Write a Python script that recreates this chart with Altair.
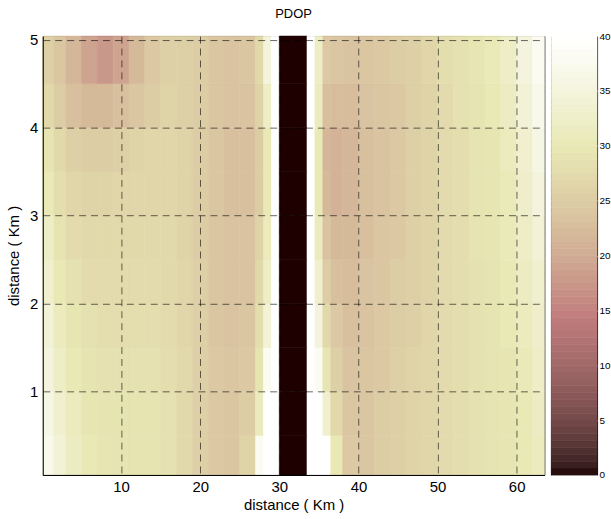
import altair as alt
import numpy as np
import pandas as pd

# Cell boundaries of the PDOP grid (km)
X_EDGES = [0.1, 1.5, 3, 5, 7, 9, 11, 13, 15, 17, 19, 21, 23, 25, 27, 28, 29, 30,
           33.5, 34.5, 35.5, 36.5, 38, 40, 42, 44, 46, 48, 50, 52, 54, 56, 58, 60, 62, 63.5]
Y_EDGES = [0.05, 0.5, 1.0, 1.5, 2.0, 2.5, 3.0, 3.5, 4.0, 4.5, 5.04]

# PDOP per cell, one row per y band (bottom to top); left side, blocked strip, right side
PDOP_LEFT = [
    [37, 34, 31.5, 30, 29.5, 29, 29, 29, 28.5, 27, 25.5, 24.5, 24, 26, 38, 45, 45],
    [36, 33, 31, 29.5, 29, 29, 29, 29, 28.5, 27, 25.5, 24.5, 24, 25, 31, 42, 45],
    [35, 32, 30, 29, 28.5, 28.5, 28.5, 28.5, 28, 27, 25.5, 24.5, 24, 24.5, 29, 38, 45],
    [34, 31, 29.5, 28.5, 28, 28, 28, 28, 27.5, 26.5, 25.5, 24, 23.5, 24, 28, 34, 45],
    [33, 30, 28.5, 27.5, 27.5, 27.5, 27.5, 27.5, 27, 26.5, 25.5, 24, 23.5, 23.5, 27, 32, 45],
    [32, 29, 27.5, 27, 27, 27, 27, 27, 27, 26, 25, 24, 23.5, 23.5, 26, 31, 45],
    [30.5, 28, 26.5, 26, 26, 26.5, 26.5, 26.5, 26.5, 26, 25, 24, 23, 23, 25, 30, 45],
    [29, 27, 25.5, 25, 25, 25.5, 26, 26.5, 26.5, 26, 25, 24, 23, 23, 25, 30, 45],
    [27, 25, 23, 22, 22, 23, 24, 25, 26, 25.5, 25, 24, 23.5, 23.5, 26, 32, 45],
    [25.5, 24, 21.5, 19, 17.5, 19, 22, 24.5, 25.5, 25.5, 25, 24, 23.5, 24, 27, 35, 45],
]
PDOP_STRIP = 0
PDOP_RIGHT = [
    [45, 45, 40, 30, 24.5, 24, 25, 25.5, 26, 26.5, 27.5, 28, 28.5, 29, 29.5, 30, 31],
    [45, 42, 33, 27, 24, 24, 25, 25.5, 26, 26.5, 27.5, 28, 28.5, 29, 29.5, 30, 31.5],
    [45, 38, 29.5, 25.5, 23.5, 24, 24.5, 25.5, 26, 26.5, 27.5, 28, 28.5, 29, 29.5, 30.5, 32],
    [45, 35, 27, 24.5, 23, 23.5, 24.5, 25, 25.5, 26.5, 27.5, 28, 28.5, 29, 30, 31, 32.5],
    [45, 33, 25, 23, 22.5, 23.5, 24, 25, 25.5, 26, 27.5, 28, 28.5, 29, 30, 31.5, 33],
    [45, 31, 23.5, 22, 22, 23, 24, 24.5, 25.5, 26, 27.5, 28, 29, 29.5, 30.5, 32, 34],
    [45, 30, 22, 21, 21.5, 23, 23.5, 24.5, 25.5, 26, 27.5, 28, 29, 29.5, 30.5, 32.5, 35],
    [45, 30, 21.5, 21, 21.5, 23, 23.5, 24.5, 25.5, 26, 27.5, 28, 29, 29.5, 31, 33, 36],
    [45, 31, 23, 22.5, 22.5, 23.5, 24, 24.5, 25.5, 26, 27.5, 28.5, 29, 30, 31.5, 34, 37],
    [45, 32, 24.5, 24, 23.5, 24, 24.5, 25, 25.5, 26.5, 28, 28.5, 29.5, 30.5, 32, 35, 38],
]

X_TICKS = [10, 20, 30, 40, 50, 60]
Y_TICKS = [1, 2, 3, 4, 5]
CBAR_TICKS = [0, 5, 10, 15, 20, 25, 30, 35, 40]
CBAR_MAX = 40


def pink_colormap(m=64):
    """64-level 'pink' colormap: sqrt((2*gray + hot) / 3)."""
    n = int(3 / 8 * m)
    r = np.concatenate([np.arange(1, n + 1) / n, np.ones(m - n)])
    g = np.concatenate([np.zeros(n), np.arange(1, n + 1) / n, np.ones(m - 2 * n)])
    b = np.concatenate([np.zeros(2 * n), np.arange(1, m - 2 * n + 1) / (m - 2 * n)])
    gray = np.arange(m) / (m - 1)
    rgb = np.sqrt((2 * gray[:, None] + np.stack([r, g, b], axis=1)) / 3)
    return ["#%02x%02x%02x" % tuple(int(round(c * 255)) for c in row) for row in rgb]


PINK = pink_colormap(64)
color_scale = alt.Scale(domain=[0, CBAR_MAX], range=PINK, clamp=True, interpolate="rgb")

rows = []
for j in range(len(Y_EDGES) - 1):
    values = PDOP_LEFT[j] + [PDOP_STRIP] + PDOP_RIGHT[j]
    for i, v in enumerate(values):
        rows.append({"x": X_EDGES[i], "x2": X_EDGES[i + 1],
                     "y": Y_EDGES[j], "y2": Y_EDGES[j + 1], "pdop": v})
grid = pd.DataFrame(rows)

FONT = "Liberation Sans"

grid_style = dict(grid=True, gridDash=[7, 5], gridColor="#000000", gridOpacity=0.6,
                  ticks=False, domainColor="#000000", zindex=1,
                  labelFont=FONT, titleFont=FONT, labelFontSize=15, titleFontSize=15,
                  labelColor="#000000", titleColor="#000000", titleFontWeight="normal")

heat = alt.Chart(grid).mark_rect(strokeWidth=0.6).encode(
    x=alt.X("x:Q", scale=alt.Scale(domain=[0.1, 63.5], nice=False, zero=False),
            axis=alt.Axis(values=X_TICKS, title="distance ( Km )",
                          labelPadding=5, titlePadding=3, **grid_style)),
    x2="x2:Q",
    y=alt.Y("y:Q", scale=alt.Scale(domain=[0.05, 5.04], nice=False, zero=False),
            axis=alt.Axis(values=Y_TICKS, title="distance ( Km )",
                          labelPadding=5, titlePadding=8, **grid_style)),
    y2="y2:Q",
    fill=alt.Fill("pdop:Q", scale=color_scale, legend=None),
    stroke=alt.Stroke("pdop:Q", scale=color_scale, legend=None),
).properties(
    width=504, height=441,
    title=alt.TitleParams("PDOP", fontSize=13, fontWeight="normal", font=FONT,
                          offset=12, color="#000000"),
)

# Colour bar: 64 bands spanning 0..40
levels = np.arange(len(PINK) + 1) * CBAR_MAX / len(PINK)
bar = pd.DataFrame({"lo": levels[:-1], "hi": levels[1:],
                    "mid": (levels[:-1] + levels[1:]) / 2})

cbar = alt.Chart(bar).mark_rect(strokeWidth=0.6).encode(
    y=alt.Y("lo:Q", scale=alt.Scale(domain=[0, CBAR_MAX], nice=False),
            axis=alt.Axis(values=CBAR_TICKS, orient="right", title=None,
                          ticks=False, labelPadding=2, labelFontSize=10,
                          labelFont=FONT, labelColor="#000000", domain=False)),
    y2="hi:Q",
    fill=alt.Fill("mid:Q", scale=color_scale, legend=None),
    stroke=alt.Stroke("mid:Q", scale=color_scale, legend=None),
).properties(width=46, height=441)

chart = alt.hconcat(heat, cbar, spacing=5).properties(
    padding={"left": 6, "top": 6, "right": 0, "bottom": 0},
    background="#ffffff",
).configure_view(
    stroke="#000000", strokeWidth=1
)

chart.save("out.html", embed_options={"renderer": "svg", "actions": False})
